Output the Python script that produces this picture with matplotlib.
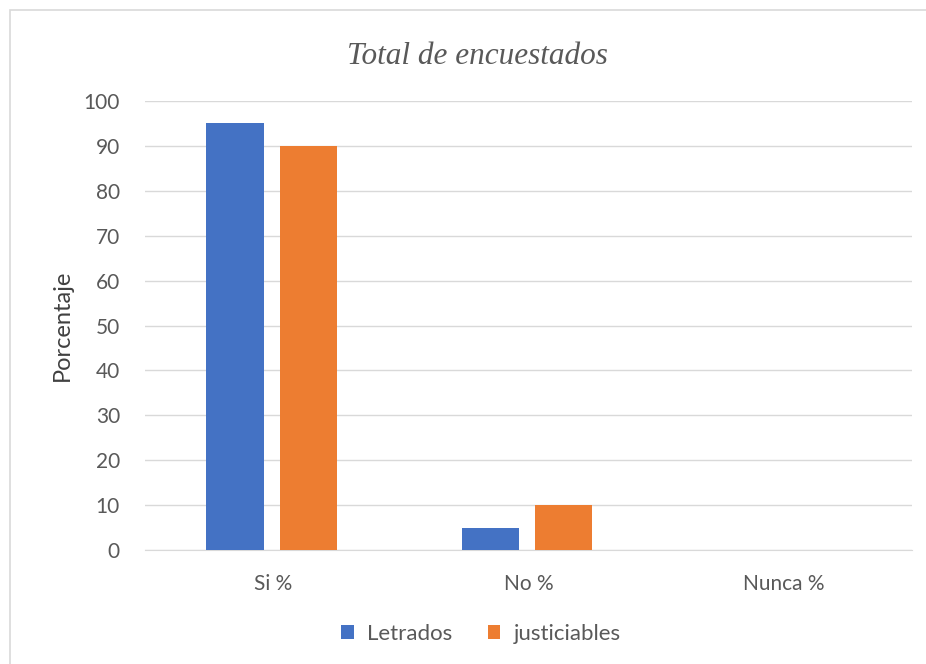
import matplotlib.pyplot as plt
import numpy as np
from matplotlib.patches import Rectangle

plt.rcParams['font.family'] = ['Lato', 'DejaVu Sans']

categories = ["Si %", "No %", "Nunca %"]
letrados = [95, 5, 0]
justiciables = [90, 10, 0]
yticks = [0, 10, 20, 30, 40, 50, 60, 70, 80, 90, 100]

W, H = 926, 664
fig = plt.figure(figsize=(W/100, H/100), dpi=100)
ax = fig.add_axes([145/W, 1-550/H, (912-145)/W, (550-101)/H])

x = np.arange(len(categories))
bw = 0.223
off = 0.143
c1, c2 = "#4472C4", "#ED7D31"
ax.bar(x - off - 0.005, letrados, bw, color=c1, label="Letrados", zorder=3)
ax.bar(x + off - 0.005, justiciables, bw, color=c2, label="justiciables", zorder=3)

ax.set_xlim(-0.5, 2.5)
ax.set_ylim(0, 100)
ax.set_yticks(yticks)
ax.set_xticks(x)
ax.set_xticklabels(categories)
ax.yaxis.grid(True, color="#D9D9D9", linewidth=1, zorder=0)
for s in ["top", "right", "left"]:
    ax.spines[s].set_visible(False)
ax.spines["bottom"].set_color("#D9D9D9")
ax.tick_params(axis="both", length=0, labelsize=15, labelcolor="#595959")
ax.tick_params(axis="y", pad=18)
ax.tick_params(axis="x", pad=17)
ax.set_ylabel("Porcentaje", fontsize=17, color="#404040", labelpad=8)

fig.text(477/W, 1-56/H, "Total de encuestados", ha="center", va="center",
         fontsize=22.5, fontstyle="italic", family="Liberation Serif", color="#595959")

leg = fig.legend(loc="center", bbox_to_anchor=(481/W, 1-634/H), ncol=2, frameon=False,
                 fontsize=16, handlelength=0.55, handleheight=0.55, columnspacing=1.6,
                 handletextpad=0.6)
for t in leg.get_texts():
    t.set_color("#595959")

fig.patches.append(Rectangle((10/W, -0.01), 1.0, 1-10/H + 0.01, transform=fig.transFigure,
                             fill=False, edgecolor="#D9D9D9", linewidth=1.2))

fig.savefig("out.png", dpi=100)
